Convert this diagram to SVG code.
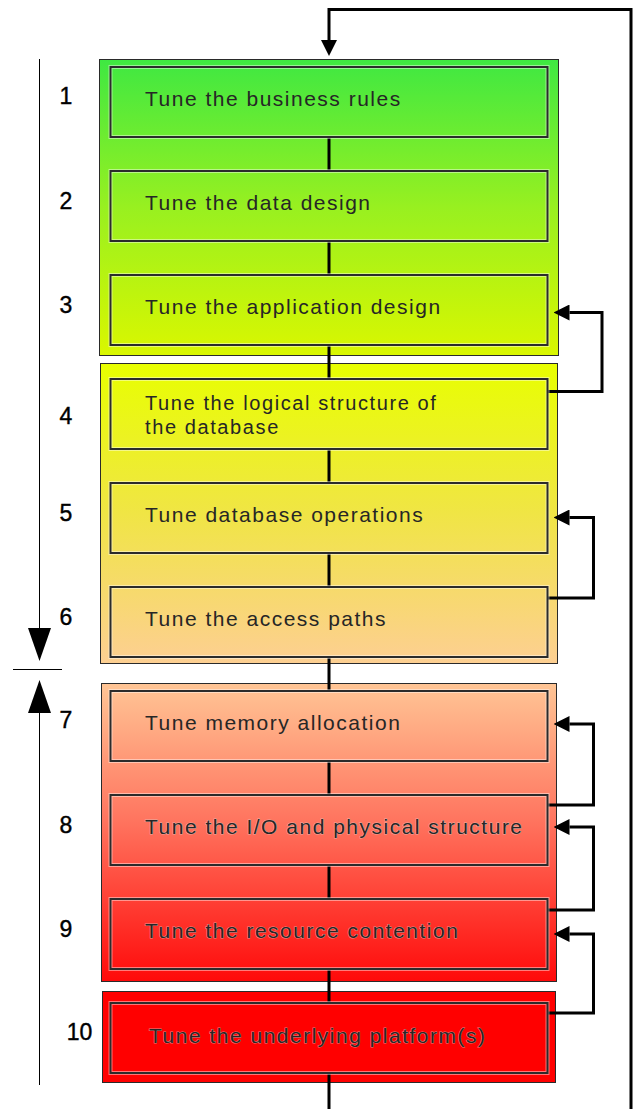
<svg xmlns="http://www.w3.org/2000/svg" width="636" height="1109" viewBox="0 0 636 1109">
<defs>
<linearGradient id="gA" x1="0" y1="0" x2="0" y2="1"><stop offset="0" stop-color="#3fe842"/><stop offset="0.5" stop-color="#98f020"/><stop offset="1" stop-color="#daf700"/></linearGradient>
<linearGradient id="gB" x1="0" y1="0" x2="0" y2="1"><stop offset="0" stop-color="#e8ff00"/><stop offset="0.5" stop-color="#f0e545"/><stop offset="1" stop-color="#fdcf92"/></linearGradient>
<linearGradient id="gC" x1="0" y1="0" x2="0" y2="1"><stop offset="0" stop-color="#ffc595"/><stop offset="0.45" stop-color="#ff7660"/><stop offset="1" stop-color="#ff0a0a"/></linearGradient>
<marker id="ah" viewBox="0 0 16 16" refX="0" refY="8" markerWidth="16" markerHeight="16" markerUnits="userSpaceOnUse" orient="auto"><path d="M0,0 L16,8 L0,16 z" fill="#000"/></marker>
<style>
.grp{stroke:#2a2a2a;stroke-width:1}
.halo{fill:none;stroke:#ffffff;stroke-opacity:0.45;stroke-width:4}
.box{fill:none;stroke:#2b2b2b;stroke-width:2}
.lbl{font-family:"Liberation Sans",Arial,sans-serif;font-size:21px;letter-spacing:1.5px;fill:#262626}
.two{font-size:20px;letter-spacing:1.6px}
.red{stroke:#d8d8d8;stroke-opacity:0.6;stroke-width:1;paint-order:stroke}
.num{font-family:"Liberation Sans",Arial,sans-serif;font-size:23px;fill:#000;stroke:#000;stroke-width:0.4;text-anchor:middle}
.con{fill:none;stroke:#000;stroke-width:3}
.thin{fill:none;stroke:#000;stroke-width:1}
</style>
</defs>
<rect width="636" height="1109" fill="#fff"/>
<g id="groups">
<rect id="groupA" class="grp" x="99.5" y="59.5" width="459" height="296" fill="url(#gA)"/>
<rect id="groupB" class="grp" x="100.5" y="363.5" width="457" height="300" fill="url(#gB)"/>
<rect id="groupC" class="grp" x="101.5" y="683.5" width="455" height="298" fill="url(#gC)"/>
<rect id="groupD" class="grp" x="102.5" y="991.5" width="453" height="91" fill="#ff0000"/>
</g>
<g id="connectors">
<path class="con" d="M329,137 V171 M329,241 V275 M329,345 V379 M329,449 V483 M329,553 V587 M329,657 V691 M329,761 V795 M329,865 V899 M329,969 V1003 M329,1073 V1109"/>
<path class="con" d="M631,1109 V9.5 H329 V40" marker-end="url(#ah)"/>
<path class="con" d="M547,391.5 H602 V312.5 H569.5" marker-end="url(#ah)"/>
<path class="con" d="M547,598 H593.5 V517.5 H569.5" marker-end="url(#ah)"/>
<path class="con" d="M547,805 H593.5 V724 H569.5" marker-end="url(#ah)"/>
<path class="con" d="M547,910 H593.5 V827 H569.5" marker-end="url(#ah)"/>
<path class="con" d="M547,1013 H593.5 V934 H569.5" marker-end="url(#ah)"/>
</g>
<g id="order">
<line class="thin" x1="39.5" y1="59" x2="39.5" y2="630"/>
<polygon points="28,628 51,628 39.5,661" fill="#000"/>
<line class="thin" x1="13" y1="669.5" x2="62" y2="669.5"/>
<polygon points="28,713 51,713 39.5,680" fill="#000"/>
<line class="thin" x1="39.5" y1="711" x2="39.5" y2="1085"/>
</g>
<g id="n1"><rect class="halo" x="110.5" y="67" width="437" height="70"/><rect class="box" x="110.5" y="67" width="437" height="70"/><text class="lbl" x="145" y="106">Tune the business rules</text><text class="num" x="66" y="104">1</text></g>
<g id="n2"><rect class="halo" x="110.5" y="171" width="437" height="70"/><rect class="box" x="110.5" y="171" width="437" height="70"/><text class="lbl" x="145" y="210">Tune the data design</text><text class="num" x="66" y="209">2</text></g>
<g id="n3"><rect class="halo" x="110.5" y="275" width="437" height="70"/><rect class="box" x="110.5" y="275" width="437" height="70"/><text class="lbl" x="145" y="314">Tune the application design</text><text class="num" x="66" y="313">3</text></g>
<g id="n4"><rect class="halo" x="110.5" y="379" width="437" height="70"/><rect class="box" x="110.5" y="379" width="437" height="70"/><text class="lbl two" x="145" y="410">Tune the logical structure of</text><text class="lbl two" x="145" y="434">the database</text><text class="num" x="66" y="424">4</text></g>
<g id="n5"><rect class="halo" x="110.5" y="483" width="437" height="70"/><rect class="box" x="110.5" y="483" width="437" height="70"/><text class="lbl" x="145" y="522">Tune database operations</text><text class="num" x="66" y="521">5</text></g>
<g id="n6"><rect class="halo" x="110.5" y="587" width="437" height="70"/><rect class="box" x="110.5" y="587" width="437" height="70"/><text class="lbl" x="145" y="626">Tune the access paths</text><text class="num" x="66" y="625">6</text></g>
<g id="n7"><rect class="halo" x="110.5" y="691" width="437" height="70"/><rect class="box" x="110.5" y="691" width="437" height="70"/><text class="lbl" x="145" y="730">Tune memory allocation</text><text class="num" x="66" y="728">7</text></g>
<g id="n8"><rect class="halo" x="110.5" y="795" width="437" height="70"/><rect class="box" x="110.5" y="795" width="437" height="70"/><text class="lbl red" x="145" y="834">Tune the I/O and physical structure</text><text class="num" x="66" y="833">8</text></g>
<g id="n9"><rect class="halo" x="110.5" y="899" width="437" height="70"/><rect class="box" x="110.5" y="899" width="437" height="70"/><text class="lbl red" x="145" y="938">Tune the resource contention</text><text class="num" x="66" y="937">9</text></g>
<g id="n10"><rect class="halo" x="110.5" y="1003" width="437" height="70"/><rect class="box" x="110.5" y="1003" width="437" height="70"/><text class="lbl red" x="149" y="1043">Tune the underlying platform(s)</text><text class="num" x="79.5" y="1040">10</text></g>
</svg>
